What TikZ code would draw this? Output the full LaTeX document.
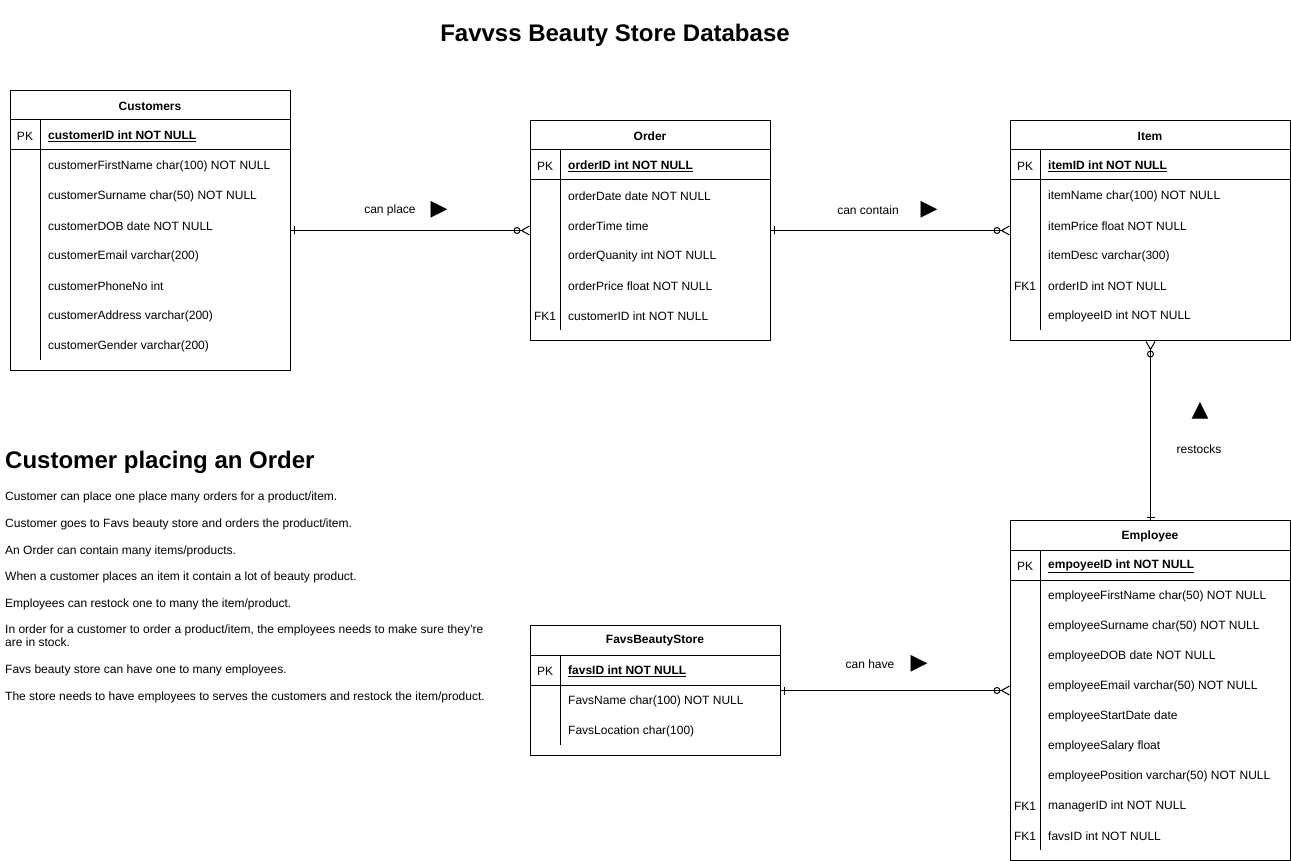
\documentclass[tikz,border=0pt]{standalone}
\usepackage{fontspec}
\setmainfont{Liberation Sans}
\newfontfamily\symfont{DejaVu Sans}
\usetikzlibrary{arrows.meta}

\tikzset{
  entity/.style={draw, line width=1pt, inner sep=0pt, anchor=north west},
  rowtext/.style={anchor=west, inner sep=0pt, font=\fontsize{12}{14}\selectfont},
  keytext/.style={inner sep=0pt, font=\fontsize{12}{14}\selectfont},
  lbl/.style={inner sep=0pt, font=\fontsize{12}{14}\selectfont},
  tri/.style={inner sep=0pt, font=\symfont\fontsize{22}{24}\selectfont},
  relation/.style={line width=1pt,
    {Rectangle[length=2.5pt,width=1pt,line width=0pt,sep=0pt]Bar[width=8pt,line width=1pt]}-{Circle[open,length=7pt,line width=1pt]Straight Barb[reversed,length=8pt,width=9pt,line width=1pt]}}
}

% one table: name, top left corner, width, body rows, title, primary key, rows
\newcommand{\ertable}[7]{%
  \begin{scope}[shift={(#2)}]
    \node[entity, minimum width=#3pt, minimum height={(70+30*#4)*1pt}] (#1) at (0,0) {};
    \node[keytext, font=\bfseries\fontsize{12}{14}\selectfont] at ({#3/2},16) {#5};
    \draw[line width=1pt] (0,30) -- (#3,30) (0,60) -- (#3,60) (30,30) -- (30,{60+30*#4});
    \node[keytext] at (15,46.5) {PK};
    \node[rowtext, font=\bfseries\fontsize{12}{14}\selectfont] at (38,46.5) {\underline{#6}};
    \foreach \kname/\fname [count=\i] in {#7} {
      \node[keytext] at (15,{46.5+30*\i}) {\kname};
      \node[rowtext] at (38,{46.5+30*\i}) {\fname};
    }
  \end{scope}}

\begin{document}
\begin{tikzpicture}[x=1pt, y=-1pt]
  \fill[white] (0,0) rectangle (1291,861);
  \useasboundingbox (0,0) rectangle (1291,861);

  % Title and notes
  \node[font=\bfseries\fontsize{24}{28}\selectfont] (title) at (615,35) {Favvss Beauty Store Database};
  \node[anchor=base west, inner sep=0pt, font=\bfseries\fontsize{24}{28}\selectfont] (heading) at (5,468) {Customer placing an Order};
  \node[anchor=north west, inner sep=0pt, align=left, font=\fontsize{12}{13}\selectfont] (notes) at (5,492) {%
    Customer can place one place many orders for a product/item.\\[13.6pt]
    Customer goes to Favs beauty store and orders the product/item.\\[13.6pt]
    An Order can contain many items/products.\\[13.6pt]
    When a customer places an item it contain a lot of beauty product.\\[13.6pt]
    Employees can restock one to many the item/product.\\[13.6pt]
    In order for a customer to order a product/item, the employees needs to make sure they're\\
    are in stock.\\[13.6pt]
    Favs beauty store can have one to many employees.\\[13.6pt]
    The store needs to have employees to serves the customers and restock the item/product.};

  % Tables
  \ertable{customers}{10,90}{280}{7}{Customers}{customerID int NOT NULL}{/customerFirstName char(100) NOT NULL, /customerSurname char(50) NOT NULL, /customerDOB date NOT NULL, /customerEmail varchar(200), /customerPhoneNo int, /customerAddress varchar(200), /customerGender varchar(200)}
  \ertable{order}{530,120}{240}{5}{Order}{orderID int NOT NULL}{/orderDate date NOT NULL, /orderTime time, /orderQuanity int NOT NULL, /orderPrice float NOT NULL, FK1/customerID int NOT NULL}
  \ertable{item}{1010,120}{280}{5}{Item}{itemID int NOT NULL}{/itemName char(100) NOT NULL, /itemPrice float NOT NULL, /itemDesc varchar(300), FK1/orderID int NOT NULL, /employeeID int NOT NULL}
  \ertable{employee}{1010,520}{280}{9}{Employee}{empoyeeID int NOT NULL}{/employeeFirstName char(50) NOT NULL, /employeeSurname char(50) NOT NULL, /employeeDOB date NOT NULL, /employeeEmail varchar(50) NOT NULL, /employeeStartDate date, /employeeSalary float, /employeePosition varchar(50) NOT NULL, FK1/managerID int NOT NULL, FK1/favsID int NOT NULL}
  \ertable{favs}{530,625}{250}{2}{FavsBeautyStore}{favsID int NOT NULL}{/FavsName char(100) NOT NULL, /FavsLocation char(100)}

  % Relations
  \draw[relation] (customers) -- (order);
  \draw[relation] (order) -- (item);
  \draw[relation] (employee) -- (item);
  \draw[relation] (favs) -- (employee);

  % Labels
  \node[lbl] (placelbl) at (390,210) {can place};
  \node[tri] (placetri) at (439,210) {▶};
  \node[lbl] (containlbl) at (868,210) {can contain};
  \node[tri] (containtri) at (929,210) {▶};
  \node[lbl] (restocklbl) at (1199,449) {restocks};
  \node[tri] (restocktri) at (1200,411) {▲};
  \node[lbl] (havelbl) at (870,664) {can have};
  \node[tri] (havetri) at (919,664) {▶};
\end{tikzpicture}
\end{document}
